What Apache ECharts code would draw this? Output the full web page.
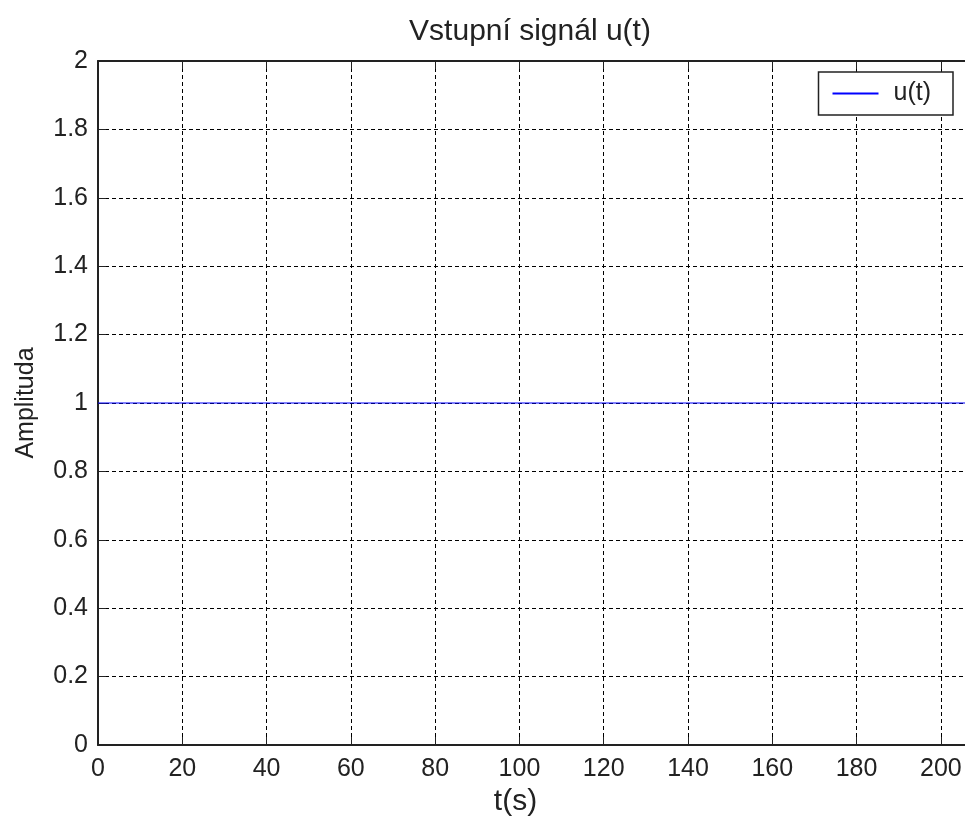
<!DOCTYPE html>
<html style="height: 100%">
<head>
    <meta charset="utf-8">
    <title>index</title>
    <style>
        html, body { margin: 0; padding: 0; background: #fff; }
        #container { width: 965px; height: 836px; }
    </style>
</head>
<body>
    <div id="container"></div>
</body>
<script src="https://cdn.jsdelivr.net/npm/echarts@6/dist/echarts.min.js"></script>
<script type="text/javascript">
    var dom = document.getElementById("container");
    var myChart = echarts.init(dom, null, { renderer: 'canvas' });

    // vstupni signal - jednotkovy skok
    var tTimes = [0, 210];
    var uValues = [1, 1];
    var seriesName = 'u(t)';

    var data = [];
    tTimes.map(function (t, i) {
        data.push([t, uValues[i]]);
    });

    var font = "'Liberation Sans', Arial, Helvetica, sans-serif";
    var dashed = {
        show: true,
        lineStyle: { color: '#000', width: 1, type: [4, 3] }
    };

    option = {
        backgroundColor: '#fff',
        animation: false,
        textStyle: { fontFamily: font, color: '#000' },
        title: {
            text: 'Vstupní signál u(t)',
            left: 525,
            top: 12,
            textAlign: 'center',
            textStyle: { fontFamily: font, fontSize: 30, fontWeight: 'normal', color: '#222' }
        },
        legend: {
            right: 12,
            top: 72,
            orient: 'vertical',
            backgroundColor: '#fff',
            borderColor: '#222',
            borderWidth: 1.5,
            borderRadius: 0,
            padding: [9, 22, 9, 14],
            itemWidth: 46,
            itemHeight: 2,
            itemGap: 0,
            icon: 'rect',
            textStyle: { fontFamily: font, fontSize: 25, lineHeight: 25, color: '#222', padding: [0, 0, 0, 10] },
            data: [seriesName]
        },
        grid: {
            left: 98,
            top: 61,
            width: 885,
            height: 684,
            outerBoundsMode: 'none',
            containLabel: false
        },
        xAxis: [{
            type: 'value',
            min: 0,
            max: 210,
            interval: 20,
            name: 't(s)',
            nameLocation: 'middle',
            nameGap: 39,
            nameTextStyle: { fontFamily: font, fontSize: 30, color: '#222', padding: [0, 50, 0, 0] },
            axisLine: { show: true, onZero: false, lineStyle: { color: '#222', width: 2 } },
            axisTick: { show: true, inside: true, length: 8, lineStyle: { color: '#222' } },
            axisLabel: {
                show: true, margin: 12, fontFamily: font, fontSize: 25, color: '#222',
                formatter: function (v) { return v % 20 === 0 ? v : ''; }
            },
            splitLine: dashed
        }, {
            type: 'value',
            position: 'top',
            min: 0,
            max: 210,
            interval: 20,
            axisLine: { show: true, onZero: false, lineStyle: { color: '#222', width: 2 } },
            axisTick: { show: true, inside: true, length: 8, lineStyle: { color: '#222' } },
            axisLabel: { show: false },
            splitLine: { show: false }
        }],
        yAxis: {
            type: 'value',
            min: 0,
            max: 2,
            interval: 0.2,
            name: 'Amplituda',
            nameLocation: 'middle',
            nameGap: 59,
            nameTextStyle: { fontFamily: font, fontSize: 25, color: '#222' },
            axisLine: { show: true, onZero: false, lineStyle: { color: '#222', width: 2 } },
            axisTick: { show: true, inside: true, length: 8, lineStyle: { color: '#222' } },
            axisLabel: {
                show: true, margin: 10, fontFamily: font, fontSize: 25, color: '#222',
                formatter: function (v) { return +v.toFixed(1); }
            },
            splitLine: dashed
        },
        series: [{
            name: seriesName,
            type: 'line',
            data: data,
            symbol: 'none',
            showSymbol: false,
            lineStyle: { color: '#0000ff', width: 1.2 },
            itemStyle: { color: '#0000ff' }
        }]
    };
    if (option && typeof option === "object") {
        myChart.setOption(option, true);
    };
</script>
</html>
